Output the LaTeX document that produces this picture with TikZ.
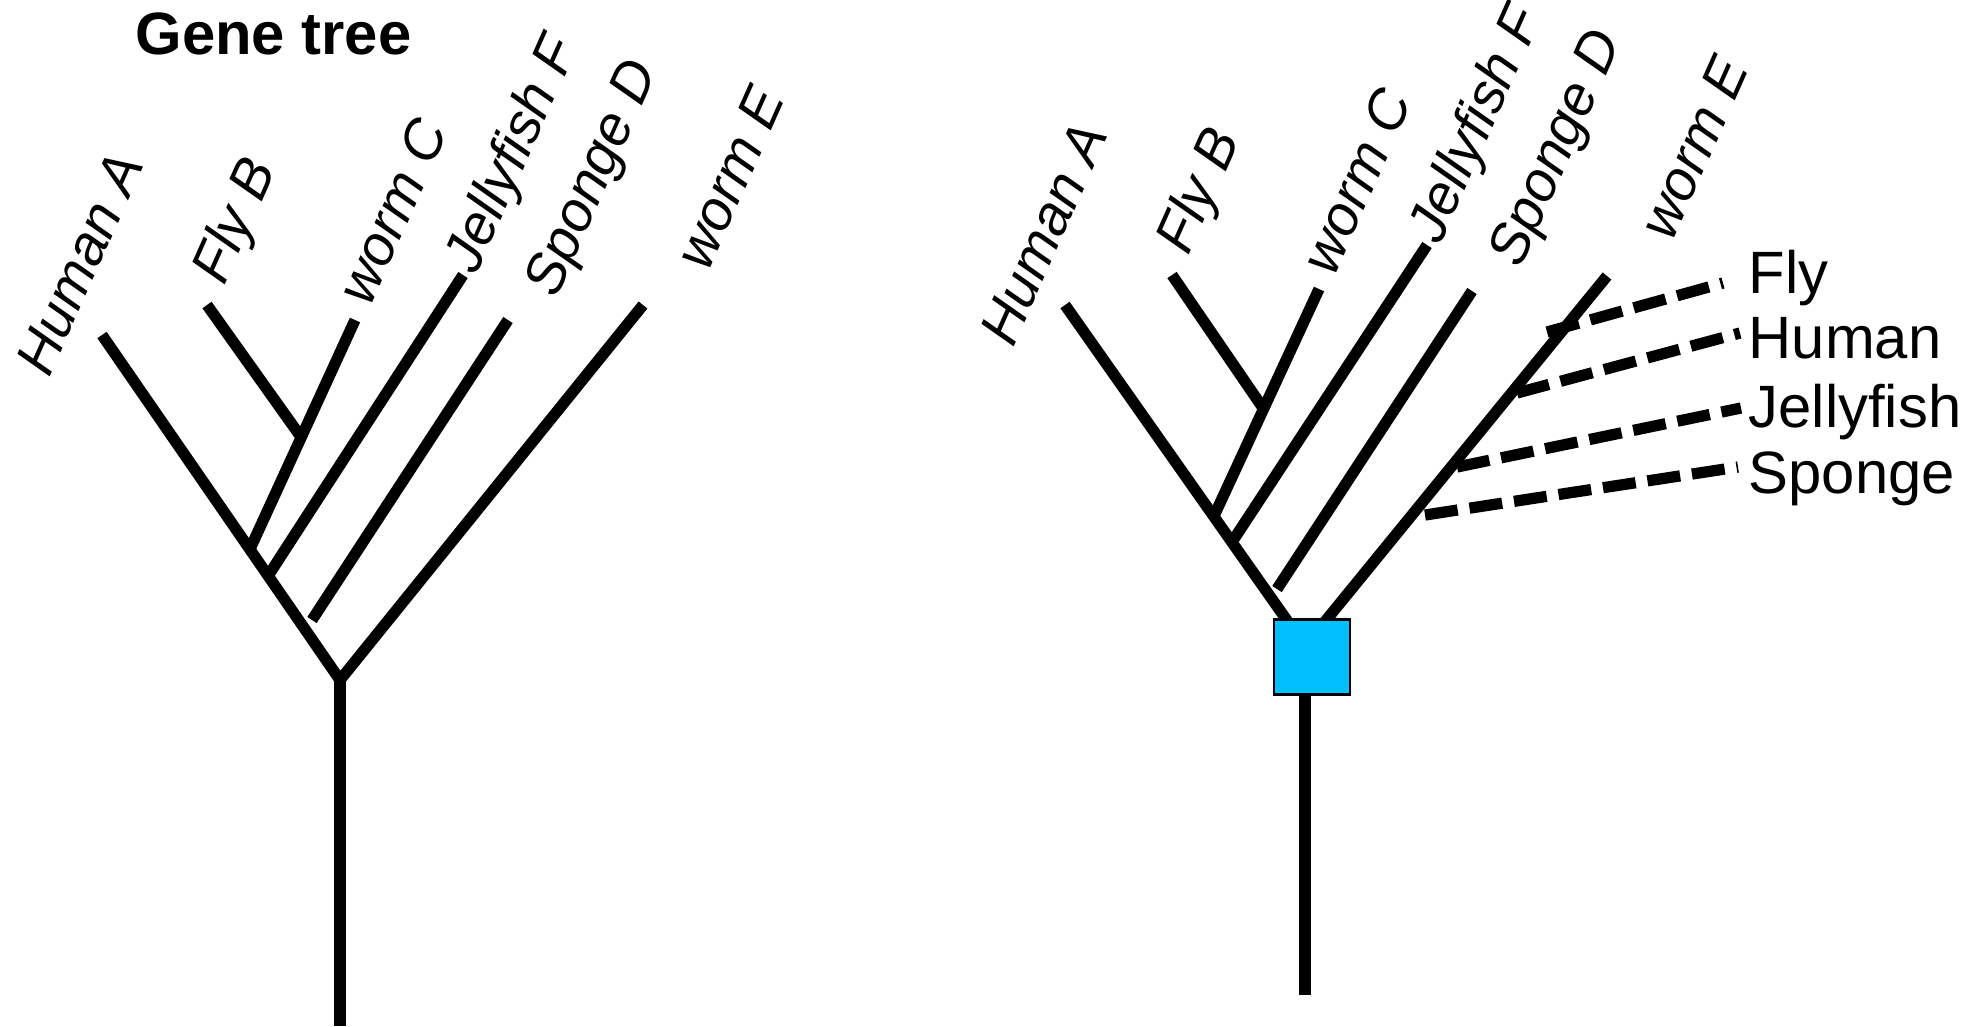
\documentclass[tikz,border=0pt]{standalone}
\usepackage{fontspec}
\setmainfont{Liberation Sans}
\definecolor{dupblue}{RGB}{0,192,255}
\begin{document}
\begin{tikzpicture}[x=0.01cm,y=-0.01cm]
    \tikzstyle{branch} = [line width=3.2pt]
    \tikzstyle{hit} = [line width=3.2pt,dash pattern=on 9.4pt off 3.4pt]
    \tikzstyle{leaf} = [anchor=base west,inner sep=0pt,rotate=66,
                        font=\fontsize{16}{19}\selectfont\itshape]
    \tikzstyle{species} = [anchor=base west,inner sep=0pt,
                        font=\fontsize{17}{20}\selectfont]
    \useasboundingbox (0,0) rectangle (1984,1026);
    % gene tree
    \coordinate (lHA) at (102,335);
    \coordinate (lFB) at (207,305);
    \coordinate (lWC) at (355,320);
    \coordinate (lJF) at (463,275);
    \coordinate (lSD) at (508,320);
    \coordinate (lWE) at (643,305);
    \coordinate (lFBj) at (301,437);
    \coordinate (lWCj) at (250,549);
    \coordinate (lJFj) at (268,576);
    \coordinate (lSDj) at (312,620);
    \coordinate (lroot) at (340,680);
    \coordinate (lbase) at (340,1026);
    \draw[branch] (lHA)--(lroot)--(lWE);
    \draw[branch] (lroot)--(lbase);
    \draw[branch] (lFB)--(lFBj);
    \draw[branch] (lWC)--(lWCj);
    \draw[branch] (lJF)--(lJFj);
    \draw[branch] (lSD)--(lSDj);
    \node[anchor=base west,inner sep=0pt,font=\bfseries\fontsize{17}{20}\selectfont]
        (title) at (135,54) {Gene tree};
    \node[leaf] (lHAt) at (49,379) {Human A};
    \node[leaf] (lFBt) at (224,287) {Fly B};
    \node[leaf] (lWCt) at (370,308) {worm C};
    \node[leaf] (lJFt) at (476,276) {Jellyfish F};
    \node[leaf] (lSDt) at (556,300) {Sponge D};
    \node[leaf] (lWEt) at (708,273) {worm E};
    % same tree with the duplication and the best hits
    \coordinate (rHA) at (1065,305);
    \coordinate (rFB) at (1172,275);
    \coordinate (rWC) at (1319,289);
    \coordinate (rJF) at (1427,245);
    \coordinate (rSD) at (1472,291);
    \coordinate (rWE) at (1607,276);
    \coordinate (rFBj) at (1263,408);
    \coordinate (rWCj) at (1214,516);
    \coordinate (rJFj) at (1232,542);
    \coordinate (rSDj) at (1277,589);
    \coordinate (rroot) at (1305,646);
    \coordinate (rbase) at (1305,995);
    \draw[branch] (rHA)--(rroot)--(rWE);
    \draw[branch] (rroot)--(rbase);
    \draw[branch] (rFB)--(rFBj);
    \draw[branch] (rWC)--(rWCj);
    \draw[branch] (rJF)--(rJFj);
    \draw[branch] (rSD)--(rSDj);
    \node[leaf] (rHAt) at (1013,349) {Human A};
    \node[leaf] (rFBt) at (1188,257) {Fly B};
    \node[leaf] (rWCt) at (1334,278) {worm C};
    \node[leaf] (rJFt) at (1440,246) {Jellyfish F};
    \node[leaf] (rSDt) at (1520,270) {Sponge D};
    \node[leaf] (rWEt) at (1672,243) {worm E};
    \coordinate (hFly) at (1547,332);
    \coordinate (hHuman) at (1517,393);
    \coordinate (hJelly) at (1457,467);
    \coordinate (hSponge) at (1425,515);
    \coordinate (eFly) at (1723,283);
    \coordinate (eHuman) at (1740,333);
    \coordinate (eJelly) at (1741,408);
    \coordinate (eSponge) at (1738,467);
    \draw[hit] (hFly)--(eFly);
    \draw[hit] (hHuman)--(eHuman);
    \draw[hit] (hJelly)--(eJelly);
    \draw[hit] (hSponge)--(eSponge);
    \node[species] (sFly) at (1748,293) {Fly};
    \node[species] (sHuman) at (1748,358) {Human};
    \node[species] (sJelly) at (1748,427) {Jellyfish};
    \node[species] (sSponge) at (1748,493) {Sponge};
    \node[draw=black,line width=0.6pt,fill=dupblue,inner sep=0pt,
          minimum width=0.76cm,minimum height=0.75cm] (dup) at (1312,657) {};
\end{tikzpicture}
\end{document}
